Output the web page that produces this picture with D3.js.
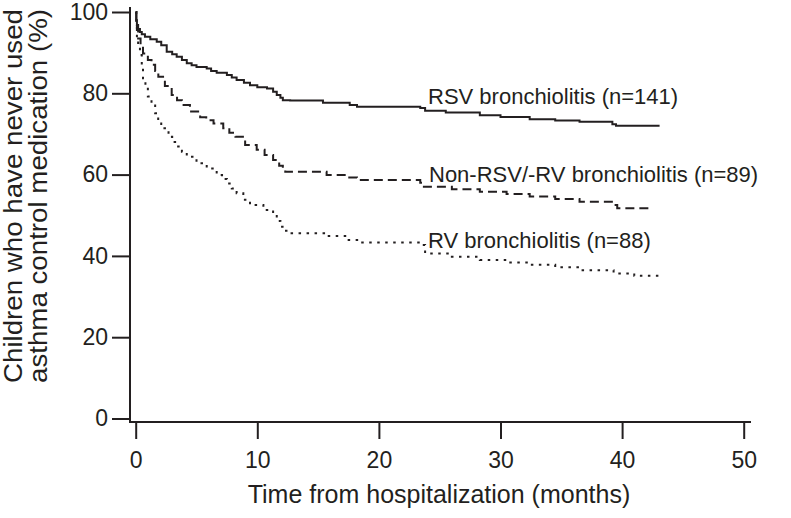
<!DOCTYPE html>
<html><head><meta charset="utf-8">
<script src="https://cdn.jsdelivr.net/npm/d3@7"></script>
<style>
html,body{margin:0;padding:0;background:#fff;}
svg{display:block;}
text{font-family:"Liberation Sans",Arial,Helvetica,sans-serif;fill:#231f20;}
</style></head>
<body>
<svg id="chart" width="791" height="518"></svg>
<script>
// ---- data ----
const xTicks = [0, 10, 20, 30, 40, 50];
const yTicks = [0, 20, 40, 60, 80, 100];
const xTitle = "Time from hospitalization (months)";
const yTitleLines = ["Children who have never used", "asthma control medication (%)"];

const rsvTime = [0,0.05,0.1,0.2,0.35,0.5,0.76,1.2,1.73,2.1,2.55,3.0,3.37,3.8,4.2,4.6,5.0,5.84,6.2,6.66,7.5,7.9,8.3,8.9,9.4,10.0,10.8,11.3,11.6,11.9,12.1,12.7,15.4,17.6,18.2,23.4,23.8,25.5,28.3,30.0,32.4,34.5,36.5,39.2,39.5,43.0];
const rsvSurv = [100,98,96.8,95.8,95.1,94.5,93.9,93.3,92.7,91.8,90.2,89.6,89.0,88.2,87.4,86.9,86.5,86.1,85.5,85.05,84.5,83.9,83.3,82.6,82.0,81.5,81.2,80.4,79.6,78.9,78.3,78.2,77.7,77.1,76.7,76.4,75.7,75.3,74.6,74.2,73.6,73.3,73.0,72.4,72.0,71.8];

const nonTime = [0,0.05,0.1,0.2,0.4,0.6,1.0,1.3,1.6,1.86,2.4,2.96,3.4,3.8,4.46,5.3,5.8,6.4,7.2,7.7,8.2,9.0,9.95,10.6,11.3,11.8,12.1,12.3,15.7,17.4,18.2,23.4,23.7,26.0,28.3,30.5,32.4,34.5,36.5,39.3,39.6,42.4];
const nonSurv = [100,97.5,95.6,93.5,91.5,89.8,88.2,87.0,85.5,84.1,81.8,79.6,78.3,77.1,75.5,74.1,73.4,72.6,71.4,70.3,69.3,67.3,66.1,64.8,63.6,62.2,61.1,60.7,59.9,59.3,58.7,58.0,57.0,56.4,55.8,55.2,54.6,54.0,53.3,52.5,51.7,51.3];

const rvTime = [0,0.05,0.1,0.2,0.35,0.5,0.6,0.8,1.0,1.3,1.6,1.85,2.1,2.7,3.0,3.4,3.8,4.2,5.0,5.84,6.66,7.1,7.5,7.9,8.3,8.85,9.4,10.5,11.3,11.6,11.9,12.2,12.4,15.7,17.4,18.5,23.4,23.8,26.0,28.3,30.5,32.4,34.5,36.5,39.3,41.0,43.0];
const rvSurv = [100,96.5,93.5,91.5,89.4,86.5,83.7,81.5,79.2,77.0,75.1,73.2,71.4,69.3,68.0,66.9,65.6,64.4,62.8,61.5,59.9,58.9,57.8,56.6,55.4,53.8,52.5,51.3,50.1,48.6,47.2,46.2,45.6,44.9,43.9,43.3,42.7,40.6,39.8,39.0,38.4,37.8,37.2,36.5,35.7,35.1,34.5];

const seriesNames = ["RSV bronchiolitis (n=141)", "Non-RSV/-RV bronchiolitis (n=89)", "RV bronchiolitis (n=88)"];
const seriesDash = [null, "9,5", "2.5,5.5"];

// ---- layout ----
const svg = d3.select("#chart");
const x = d3.scaleLinear().domain([0, 50]).range([135.7, 743.7]);
const y = d3.scaleLinear().domain([0, 100]).range([418.5, 12]);
const ink = "#231f20";
const ff = "Liberation Sans, Arial, sans-serif";

// y axis
const yAxisX = 130;
const yAx = svg.append("g").attr("transform", `translate(${yAxisX},0)`)
  .call(d3.axisLeft(y).tickValues(yTicks).tickSize(18).tickPadding(4));
yAx.select(".domain").remove();
yAx.selectAll(".tick line").attr("stroke", ink).attr("stroke-width", 2);
yAx.selectAll(".tick text").attr("font-size", 23).attr("fill", ink).attr("font-family", ff);
svg.append("line").attr("x1", yAxisX).attr("x2", yAxisX).attr("y1", 7).attr("y2", 423)
  .attr("stroke", ink).attr("stroke-width", 2);

// x axis
const xAxisY = 422;
const xAx = svg.append("g").attr("transform", `translate(0,${xAxisY})`)
  .call(d3.axisBottom(x).tickValues(xTicks).tickSize(17).tickPadding(13));
xAx.select(".domain").remove();
xAx.selectAll(".tick line").attr("stroke", ink).attr("stroke-width", 2);
xAx.selectAll(".tick text").attr("font-size", 23).attr("fill", ink).attr("font-family", ff);
svg.append("line").attr("x1", yAxisX - 1).attr("x2", 751).attr("y1", xAxisY).attr("y2", xAxisY)
  .attr("stroke", ink).attr("stroke-width", 2);

// titles
svg.append("text").attr("x", 439).attr("y", 503).attr("text-anchor", "middle")
  .attr("font-size", 25).text(xTitle);
const yt = svg.append("text").attr("transform", "translate(0,196) rotate(-90)")
  .attr("text-anchor", "middle").attr("font-size", 25.5);
yt.append("tspan").attr("x", 0).attr("y", 22).attr("textLength", 374)
  .attr("lengthAdjust", "spacingAndGlyphs").text(yTitleLines[0]);
yt.append("tspan").attr("x", 0).attr("y", 47).attr("textLength", 374)
  .attr("lengthAdjust", "spacingAndGlyphs").text(yTitleLines[1]);

// curves
const line = d3.line().x(d => x(d[0])).y(d => y(d[1])).curve(d3.curveStepAfter);
const series = [
  d3.zip(rsvTime, rsvSurv),
  d3.zip(nonTime, nonSurv),
  d3.zip(rvTime, rvSurv)
];
series.forEach((s, i) => {
  svg.append("path").datum(s).attr("d", line)
    .attr("fill", "none").attr("stroke", ink).attr("stroke-width", 2)
    .attr("stroke-dasharray", seriesDash[i]);
});

// labels
const labelPos = [[428, 104], [429, 182], [428, 248]];
seriesNames.forEach((n, i) => {
  svg.append("text").attr("x", labelPos[i][0]).attr("y", labelPos[i][1])
    .attr("font-size", 22).text(n);
});
</script>
</body></html>
